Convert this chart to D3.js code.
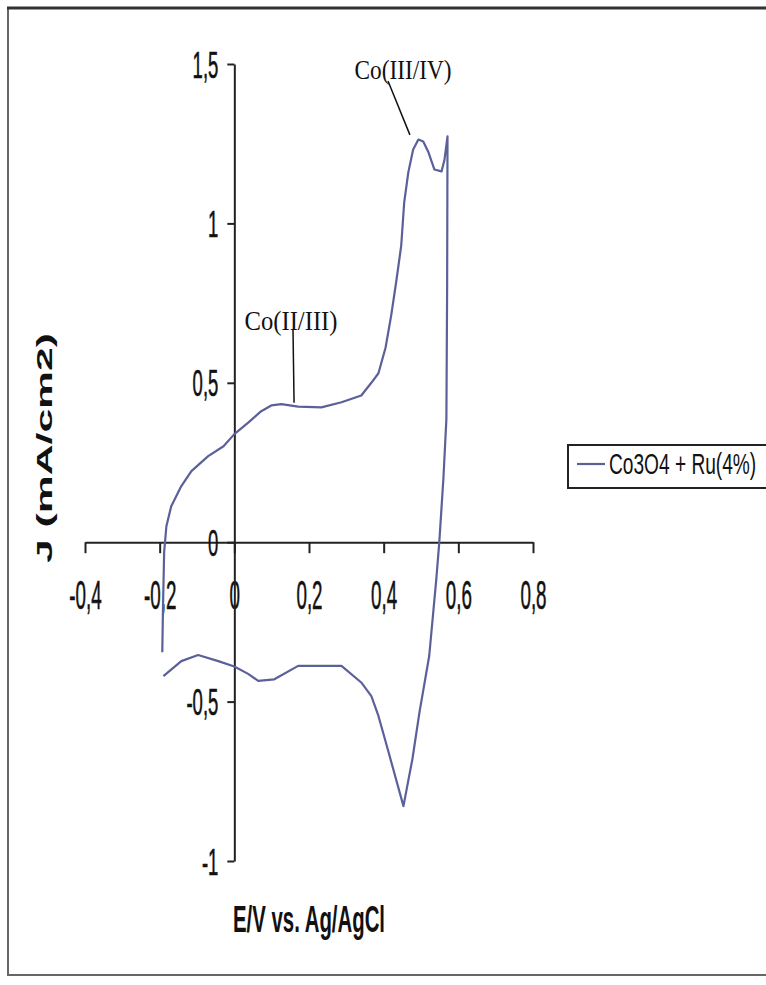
<!DOCTYPE html>
<html>
<head>
<meta charset="utf-8">
<script src="https://cdn.jsdelivr.net/npm/d3@7"></script>
<style>
  html, body { margin: 0; padding: 0; background: #fff; }
  svg { display: block; }
</style>
</head>
<body>
<svg id="chart" width="766" height="985"></svg>
<script>
// Cyclic voltammogram of Co3O4 + Ru(4%)
const seriesName = "Co3O4 + Ru(4%)";

// Anodic sweep: potential (V) and current density (mA/cm2)
const anodicE = [-0.193, -0.191, -0.188, -0.182, -0.169, -0.142, -0.115, -0.070, -0.029, 0.000,
  0.038, 0.072, 0.099, 0.126, 0.171, 0.233, 0.287, 0.340, 0.367, 0.386,
  0.405, 0.420, 0.434, 0.447, 0.455, 0.466, 0.479, 0.493, 0.506, 0.520,
  0.536, 0.555, 0.563, 0.571];
const anodicJ = [-0.345, -0.200, -0.031, 0.050, 0.113, 0.176, 0.223, 0.270, 0.301, 0.339,
  0.376, 0.411, 0.429, 0.433, 0.425, 0.423, 0.439, 0.460, 0.500, 0.530,
  0.610, 0.710, 0.820, 0.930, 1.066, 1.160, 1.232, 1.263, 1.257, 1.223,
  1.169, 1.163, 1.200, 1.273];

// Cathodic sweep
const cathodicE = [0.570, 0.568, 0.560, 0.549, 0.541, 0.522, 0.496, 0.477, 0.453, 0.413,
  0.386, 0.367, 0.340, 0.287, 0.171, 0.107, 0.064, 0.037, 0.000, -0.043,
  -0.097, -0.142, -0.190];
const cathodicJ = [0.800, 0.386, 0.200, 0.000, -0.116, -0.357, -0.533, -0.680, -0.828, -0.658,
  -0.545, -0.483, -0.440, -0.388, -0.388, -0.430, -0.435, -0.413, -0.390, -0.373,
  -0.354, -0.373, -0.420];

const xTicks = [-0.4, -0.2, 0, 0.2, 0.4, 0.6, 0.8];
const yTicks = [-1, -0.5, 0, 0.5, 1, 1.5];

// Peak annotations: label and the point on the curve it refers to
const peakLabels = ["Co(II/III)", "Co(III/IV)"];
const peakE = [0.160, 0.481];
const peakJ = [0.425, 1.24];

const xLabel = "E/V vs. Ag/AgCl";
const yLabel = "J (mA/cm2)";

const svg = d3.select("#chart");
const ink = "#222";
const curveColor = "#5b6099";

const x = d3.scaleLinear().domain([-0.4, 0.8]).range([85, 533]);
const y = d3.scaleLinear().domain([-1, 1.5]).range([861, 64]);

const fmt = d => String(d).replace(".", ",");

// outer frame
svg.append("rect").attr("x", 8).attr("y", 8).attr("width", 800).attr("height", 967)
  .attr("fill", "none").attr("stroke", "#666").attr("stroke-width", 2);
svg.append("line").attr("x1", 7).attr("x2", 766).attr("y1", 8).attr("y2", 8)
  .attr("stroke", "#333").attr("stroke-width", 3);

// x axis through J = 0
const xAxis = svg.append("g")
  .attr("transform", `translate(0,${y(0)})`)
  .call(d3.axisBottom(x).tickValues(xTicks).tickFormat(fmt).tickSize(11).tickSizeOuter(0).tickPadding(0));
xAxis.select(".domain").attr("stroke", ink).attr("stroke-width", 2);
xAxis.selectAll(".tick line").attr("stroke", ink).attr("stroke-width", 2);
xAxis.selectAll(".tick text")
  .attr("font-family", "'Liberation Sans', Arial, sans-serif")
  .attr("font-size", 40).attr("fill", "#111")
  .attr("stroke", "#111").attr("stroke-width", 0.6)
  .attr("y", 0).attr("dy", 0)
  .attr("transform", "translate(0,67) scale(0.47,1)");

// y axis through E = 0
const yAxis = svg.append("g")
  .attr("transform", `translate(${x(0)},0)`)
  .call(d3.axisLeft(y).tickValues(yTicks).tickFormat(fmt).tickSize(7).tickSizeOuter(0).tickPadding(0));
yAxis.select(".domain").attr("stroke", ink).attr("stroke-width", 2);
yAxis.selectAll(".tick line").attr("stroke", ink).attr("stroke-width", 2);
yAxis.selectAll(".tick text")
  .attr("font-family", "'Liberation Sans', Arial, sans-serif")
  .attr("font-size", 37).attr("fill", "#111")
  .attr("stroke", "#111").attr("stroke-width", 0.6)
  .attr("x", 0).attr("dy", 0).attr("y", 0)
  .attr("transform", "translate(-16,13) scale(0.5,1)");

// voltammogram
const pts = anodicE.map((e, i) => [e, anodicJ[i]])
  .concat(cathodicE.map((e, i) => [e, cathodicJ[i]]));
svg.append("path")
  .datum(pts)
  .attr("fill", "none")
  .attr("stroke", curveColor)
  .attr("stroke-width", 2.2)
  .attr("stroke-linejoin", "round")
  .attr("d", d3.line().x(d => x(d[0])).y(d => y(d[1])));

// peak labels with leader lines
const labelPos = [[291, 330, 93], [403, 79, 97]];
const leaderFrom = [[293, 330], [388, 81]];
peakLabels.forEach((t, i) => {
  svg.append("line")
    .attr("x1", leaderFrom[i][0]).attr("y1", leaderFrom[i][1])
    .attr("x2", x(peakE[i]) - (i === 1 ? 4 : 0)).attr("y2", y(peakJ[i]) - (i === 1 ? 12 : 4))
    .attr("stroke", "#111").attr("stroke-width", 1.5);
  svg.append("text")
    .attr("x", labelPos[i][0]).attr("y", labelPos[i][1])
    .attr("text-anchor", "middle")
    .attr("font-family", "'Liberation Serif', 'DejaVu Serif', serif")
    .attr("font-size", 27).attr("fill", "#111")
    .attr("textLength", labelPos[i][2]).attr("lengthAdjust", "spacingAndGlyphs")
    .text(t);
});

// axis titles
svg.append("text")
  .attr("x", 309).attr("y", 932)
  .attr("text-anchor", "middle")
  .attr("font-family", "'Liberation Sans', Arial, sans-serif")
  .attr("font-weight", "bold").attr("font-size", 36).attr("fill", "#111")
  .attr("textLength", 152).attr("lengthAdjust", "spacingAndGlyphs")
  .text(xLabel);

svg.append("text")
  .attr("transform", "translate(52,448) rotate(-90)")
  .attr("text-anchor", "middle")
  .attr("font-family", "'Liberation Sans', Arial, sans-serif")
  .attr("font-weight", "bold").attr("font-size", 22).attr("fill", "#111")
  .attr("textLength", 230).attr("lengthAdjust", "spacingAndGlyphs")
  .text(yLabel);

// legend
const lg = svg.append("g");
lg.append("rect").attr("x", 568).attr("y", 445).attr("width", 240).attr("height", 43)
  .attr("fill", "#fff").attr("stroke", ink).attr("stroke-width", 2);
lg.append("line").attr("x1", 577).attr("x2", 605).attr("y1", 464).attr("y2", 464)
  .attr("stroke", curveColor).attr("stroke-width", 2.2);
lg.append("text")
  .attr("x", 0).attr("y", 0)
  .attr("transform", "translate(609,474) scale(0.66,1)")
  .attr("font-family", "'Liberation Sans', Arial, sans-serif")
  .attr("font-size", 29).attr("fill", "#111")
  .text(seriesName);
</script>
</body>
</html>
